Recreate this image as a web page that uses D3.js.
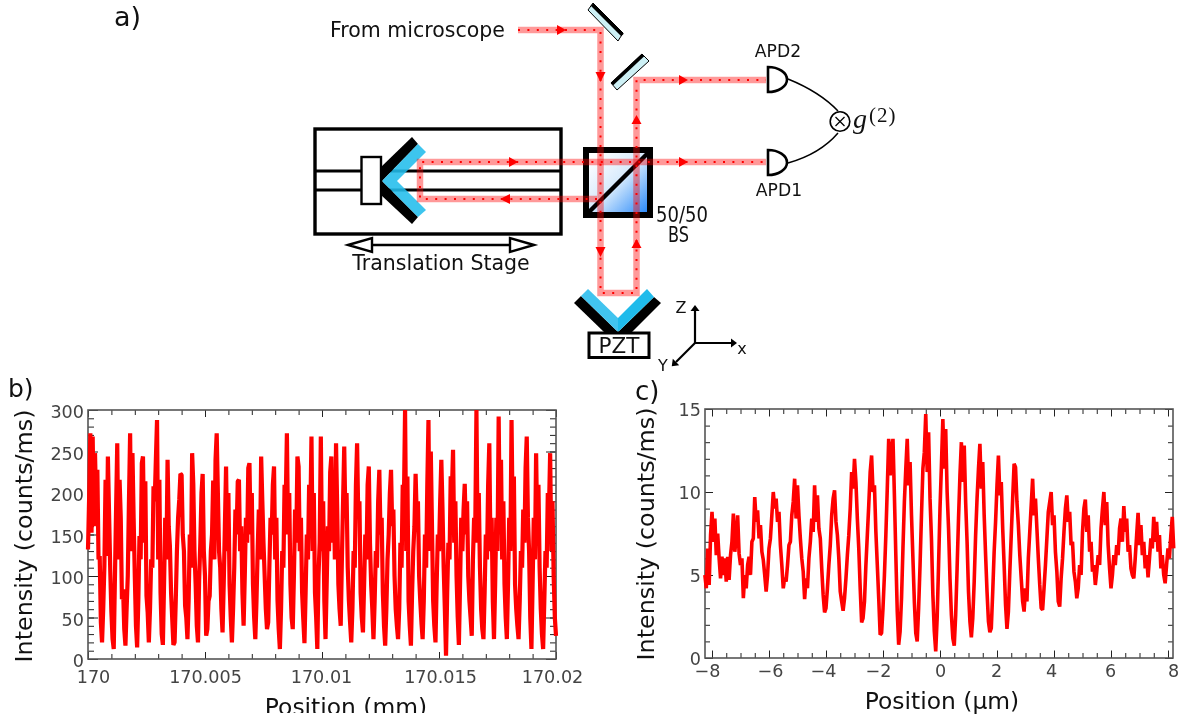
<!DOCTYPE html>
<html><head><meta charset="utf-8">
<script src="https://cdn.jsdelivr.net/npm/d3@7/dist/d3.min.js"></script>
<style>html,body{margin:0;padding:0;background:#fff}svg{display:block;filter:blur(0.4px)}text{font-family:"DejaVu Sans",sans-serif}</style>
</head><body><div id="chart"></div>
<script>
// ---- panel b) ----
const bIntensity = [
132,196,272,152,268,160,248,180,228,120,
124,44,20,60,112,216,124,244,176,108,
56,24,12,96,180,260,120,216,170,72,
84,36,16,60,100,190,272,130,248,170,
100,40,14,70,148,120,236,244,140,214,
76,56,20,60,120,110,208,190,240,288,
120,216,80,30,17,90,170,120,240,160,
136,80,48,17,20,70,130,170,192,223,
222,150,130,64,50,24,70,150,110,248,
210,130,90,40,20,96,140,200,223,130,
100,28,36,70,76,130,150,215,120,240,
272,200,130,110,60,32,90,160,232,130,
200,90,50,20,60,110,180,150,214,216,
130,160,80,40,100,170,140,230,236,150,
200,90,50,24,70,130,180,120,244,190,
140,100,60,36,44,110,170,150,210,232,
120,170,70,36,12,60,130,110,210,190,
272,150,200,90,50,36,100,180,140,244,
232,130,170,80,48,19,80,150,120,210,
170,268,130,200,80,50,12,100,140,268,
130,190,70,24,90,160,130,225,244,140,
200,120,260,180,90,60,40,120,190,256,
170,200,110,70,44,20,60,130,110,210,
260,170,190,80,50,32,90,150,120,210,
232,140,90,60,24,70,130,110,190,228,
150,170,80,40,16,60,120,150,200,228,
160,180,100,60,40,24,60,140,110,210,
190,300,130,220,70,40,16,80,130,160,
223,170,190,100,70,44,24,70,150,110,
210,288,130,250,160,70,40,20,90,150,
130,190,240,180,110,60,4,80,140,120,
220,200,252,140,190,100,50,17,90,170,
130,180,211,150,190,100,70,50,28,120,
170,160,300,140,200,110,60,36,24,80,
150,120,210,260,130,170,70,24,90,170,
130,292,150,240,120,190,90,50,24,90,
170,130,288,160,220,90,60,40,24,70,
130,110,180,140,230,268,170,130,50,12,
90,170,120,248,150,210,110,60,30,12,
70,130,110,200,180,248,130,190,100,50,
28];
const bDomainX = [170, 170.02];
const bDomainY = [0, 300];
const bMajorX = [170, 170.005, 170.01, 170.015, 170.02];
const bMajorXLabels = ["170", "170.005", "170.01", "170.015", "170.02"];
const bMinorX = d3.range(0, 21).map(i => 170 + i * 0.001);
const bMajorY = [0, 50, 100, 150, 200, 250, 300];
const bMinorY = d3.range(0, 301, 10);
const bStepMm = 0.00005;

// ---- panel c) ----
const cIntensity = [
5.0,4.2,6.6,4.4,7.4,8.8,7.0,8.4,6.2,7.5,
6.0,4.8,6.1,5.0,6.0,4.6,6.1,4.7,6.2,7.0,
8.7,6.4,7.2,8.6,6.3,5.6,6.0,3.6,5.0,4.2,
5.6,6.1,5.0,7.0,7.2,9.7,8.2,8.9,7.2,8.0,
6.4,5.9,5.0,4.0,5.0,6.6,7.2,8.6,10.0,9.0,
9.6,8.2,8.8,6.8,5.6,4.2,4.8,4.6,5.6,6.8,
7.0,8.6,9.4,10.8,8.4,10.4,8.6,7.2,6.0,5.2,
3.55,4.8,4.2,6.0,7.0,8.4,7.6,10.4,8.2,9.8,
7.8,7.2,5.4,3.8,2.75,3.0,4.2,5.6,6.8,8.6,
9.6,10.1,8.2,7.4,6.0,4.0,3.4,2.85,3.6,4.8,
6.2,7.4,9.0,11.2,10.2,12.0,10.6,8.4,6.6,4.2,
2.15,2.4,3.4,5.6,7.4,9.2,11.2,12.2,10.0,10.4,
7.6,5.6,3.6,1.4,1.5,3.0,5.0,7.4,10.2,13.2,
11.0,12.6,13.2,9.8,6.2,2.8,0.8,1.6,3.6,6.6,
9.4,11.4,13.2,10.4,11.8,8.6,6.0,3.4,1.5,1.0,
3.0,5.6,8.6,11.4,12.4,14.7,11.2,13.6,9.6,7.2,
3.8,1.6,0.4,2.4,5.6,9.0,11.6,14.4,11.4,13.8,
10.0,7.8,4.8,2.6,1.2,0.75,2.6,5.4,8.4,11.0,
13.0,10.6,12.8,9.4,7.0,4.0,2.2,1.25,2.4,4.6,
7.4,9.6,11.4,12.9,10.2,11.8,8.6,6.2,4.0,2.2,
1.55,1.8,4.0,6.4,8.2,10.4,12.2,9.8,10.6,7.8,
5.6,3.2,1.75,2.8,5.2,7.4,9.6,11.7,11.5,9.4,
8.0,6.2,4.8,3.4,2.8,4.2,3.4,6.0,7.6,9.2,
10.8,8.6,9.6,7.8,6.0,4.4,3.0,2.9,4.2,5.6,
7.2,8.8,9.4,10.0,8.0,8.6,6.4,5.2,3.4,3.1,
4.8,6.0,7.6,9.0,9.8,8.2,8.8,6.8,7.0,5.2,
4.6,3.6,4.2,5.6,5.0,7.6,9.0,9.55,7.6,8.6,
6.4,7.0,5.2,5.6,4.4,5.2,6.2,5.6,7.8,9.0,
10.0,8.0,9.4,6.8,5.4,4.2,5.0,6.2,5.6,6.8,
6.2,7.8,8.4,7.0,9.15,7.6,8.4,6.4,6.8,5.4,
5.0,4.8,6.0,7.4,8.75,6.8,8.0,6.2,7.0,5.4,
6.2,4.85,6.0,7.2,6.6,8.5,7.0,8.2,6.4,7.4,
5.4,6.2,5.0,4.5,5.6,6.6,6.0,7.4,8.5,6.6];
const cDomainX = [-8, 8];
const cDomainY = [0, 15];
const cStartUm = -8.25;
const cStepUm = 0.05;
const cMajorX = [-8, -6, -4, -2, 0, 2, 4, 6, 8];
const cMajorXLabels = ["\u22128", "\u22126", "\u22124", "\u22122", "0", "2", "4", "6", "8"];
const cMinorX = d3.range(-8, 8.01, 0.5);
const cMajorY = [0, 5, 10, 15];
const cMinorY = d3.range(0, 16, 1);

const svg = d3.select("#chart").append("svg").attr("width", 1185).attr("height", 722);
svg.append("rect").attr("width", 1185).attr("height", 722).attr("fill", "#fff");

function plot(o) {
  const x = d3.scaleLinear().domain(o.domX).range(o.rangeX);
  const y = d3.scaleLinear().domain(o.domY).range(o.rangeY);
  const [L, R] = o.frameX, [T, B] = o.frameY;
  const g = svg.append("g");
  const axes = [
    [d3.axisBottom, B, "x"], [d3.axisTop, T, "x"], [d3.axisLeft, L, "y"], [d3.axisRight, R, "y"]
  ];
  for (const [mk, pos, kind] of axes) {
    const horizontal = kind === "x";
    const scale = horizontal ? x : y;
    const tr = horizontal ? `translate(0,${pos})` : `translate(${pos},0)`;
    const minorLen = horizontal ? o.minorLenX : o.minorLenY;
    const majorLen = horizontal ? o.majorLenX : o.majorLenY;
    const a1 = g.append("g").attr("transform", tr)
      .call(mk(scale).tickValues(horizontal ? o.minorX : o.minorY).tickSize(-minorLen).tickFormat(""));
    const a2 = g.append("g").attr("transform", tr)
      .call(mk(scale).tickValues(horizontal ? o.majorX : o.majorY).tickSize(-majorLen).tickFormat(""));
    for (const a of [a1, a2]) {
      a.select(".domain").remove();
      a.selectAll("line").attr("stroke", "#222").attr("stroke-width", 1);
      a.selectAll("text").remove();
    }
  }
  g.append("rect").attr("x", L).attr("y", T).attr("width", R - L).attr("height", B - T)
    .attr("fill", "none").attr("stroke", "#555").attr("stroke-width", 1.6);
  const lbls = g.append("g").attr("transform", `translate(0,${B})`)
    .call(d3.axisBottom(x).tickValues(o.majorX).tickSize(0).tickFormat((d, i) => o.majorXLabels[i]));
  lbls.select(".domain").remove();
  lbls.selectAll("text").attr("y", 0).attr("dy", 0)
    .attr("transform", (d, i) => `translate(${o.xLabelShift[i]},${o.xLabelBase - B})`)
    .style("font-family", '"DejaVu Sans",sans-serif').style("font-size", "17.6px").attr("fill", "#444").attr("text-anchor", "middle");
  const yl = g.append("g").attr("transform", `translate(${o.yLabelRight},0)`)
    .call(d3.axisLeft(y).tickValues(o.majorY).tickSize(0).tickPadding(0));
  yl.select(".domain").remove();
  yl.selectAll("text").attr("x", 0).attr("dy", 0).attr("y", d => o.yLabelDy(d))
    .style("font-family", '"DejaVu Sans",sans-serif').style("font-size", "17.6px").attr("fill", "#444");
  const line = d3.line().x(d => x(d.p)).y(d => y(d.v));
  g.append("path").datum(o.points).attr("d", line).attr("fill", "none")
    .attr("stroke", "#ff0000").attr("stroke-width", o.lineWidth).attr("stroke-linejoin", "bevel");
}

plot({
  domX: bDomainX, domY: bDomainY, rangeX: [88, 556], rangeY: [659, 410],
  frameX: [88, 556], frameY: [410, 659],
  majorX: bMajorX, majorXLabels: bMajorXLabels, minorX: bMinorX, majorY: bMajorY, minorY: bMinorY,
  minorLenX: 5, majorLenX: 7, minorLenY: 6, majorLenY: 10,
  xLabelBase: 683, xLabelShift: [5, 0, -1, 1, -4], yLabelRight: 84, yLabelDy: d => 7.5, lineWidth: 4.2,
  points: bIntensity.map((v, i) => ({ p: 170 + i * bStepMm, v }))
});
plot({
  domX: cDomainX, domY: cDomainY, rangeX: [712, 1168], rangeY: [658, 409],
  frameX: [705, 1173], frameY: [409, 658],
  majorX: cMajorX, majorXLabels: cMajorXLabels, minorX: cMinorX, majorY: cMajorY, minorY: cMinorY,
  minorLenX: 5, majorLenX: 7.5, minorLenY: 5, majorLenY: 8,
  xLabelBase: 677, xLabelShift: [-5, 1, -3, -5, 0, -1, -3, -1, 5], yLabelRight: 701, yLabelDy: d => 6.5, lineWidth: 3.6,
  points: cIntensity.map((v, i) => ({ p: cStartUm + i * cStepUm, v }))
});

// titles
const defs = svg.append("defs");
defs.append("clipPath").attr("id", "bottomCut").append("rect").attr("x", 0).attr("y", 0).attr("width", 1185).attr("height", 713);
function txt(s, x, y, size, opt = {}) {
  return svg.append("text").attr("x", x).attr("y", y).text(s)
    .attr("font-size", size).attr("fill", opt.fill || "#111")
    .attr("text-anchor", opt.anchor || "middle");
}
svg.append("g").attr("clip-path", "url(#bottomCut)").append("text").attr("x", 346).attr("y", 715)
  .text("Position (mm)").attr("font-size", 23.4).attr("fill", "#111").attr("text-anchor", "middle");
txt("Position (\u00b5m)", 942, 709, 23.4);
txt("Intensity (counts/ms)", 0, 0, 23.8).attr("transform", "translate(32,536) rotate(-90)");
txt("Intensity (counts/ms)", 0, 0, 23.8).attr("transform", "translate(654,534) rotate(-90)");
txt("a)", 114, 26, 27, { anchor: "start" });
txt("b)", 8, 397, 25, { anchor: "start" });
txt("c)", 635, 400, 26, { anchor: "start" });

// ---- panel a) schematic ----
const poly = (pts, fill, stroke, sw, op) => svg.append("path")
  .attr("d", d3.line()(pts) + "Z").attr("fill", fill).attr("stroke", stroke || "none")
  .attr("stroke-width", sw || 0).attr("fill-opacity", op === undefined ? 1 : op).attr("stroke-linejoin", "miter");
const seg = (pts, stroke, sw) => svg.append("path").attr("d", d3.line()(pts)).attr("fill", "none")
  .attr("stroke", stroke).attr("stroke-width", sw).attr("stroke-linejoin", "miter");

// gradient cube
const grad = defs.append("linearGradient").attr("id", "bsGrad").attr("x1", 0).attr("y1", 0).attr("x2", 1).attr("y2", 1);
grad.append("stop").attr("offset", "0.1").attr("stop-color", "#ffffff");
grad.append("stop").attr("offset", "0.5").attr("stop-color", "#d6eafc");
grad.append("stop").attr("offset", "0.95").attr("stop-color", "#2e8cfa");

// stage
svg.append("rect").attr("x", 315).attr("y", 129).attr("width", 246).attr("height", 105)
  .attr("fill", "#fff").attr("stroke", "#000").attr("stroke-width", 3.4);
seg([[315, 171], [561, 171]], "#000", 3);
seg([[315, 190], [561, 190]], "#000", 3);

// beam-splitter cube
svg.append("rect").attr("x", 586).attr("y", 150).attr("width", 64).attr("height", 65)
  .attr("fill", "url(#bsGrad)").attr("stroke", "#000").attr("stroke-width", 6);
seg([[586, 215], [651, 150]], "#000", 4.5);

// retroreflector on stage
poly([[381, 167], [412, 137], [418, 144], [382, 181]], "#000");
poly([[381, 195], [412, 224], [418, 217], [382, 181]], "#000");
poly([[382, 181], [418, 144], [426, 152], [397, 181]], "#22bdec", null, 0, 0.88);
poly([[382, 181], [418, 217], [426, 210], [397, 181]], "#22bdec", null, 0, 0.88);
svg.append("rect").attr("x", 361.5).attr("y", 157).attr("width", 19.5).attr("height", 47)
  .attr("fill", "#fff").attr("stroke", "#000").attr("stroke-width", 2.4);

// PZT retroreflector
poly([[581, 296], [574, 303], [604, 332], [618, 332]], "#000");
poly([[654, 297], [661, 303], [632, 332], [618, 332]], "#000");
poly([[588, 289], [618, 318], [618, 332], [581, 296]], "#41c4ef");
poly([[647, 289], [618, 318], [618, 332], [654, 297]], "#1fbbeb");
svg.append("rect").attr("x", 589).attr("y", 333).attr("width", 60).attr("height", 24.5)
  .attr("fill", "#fff").attr("stroke", "#000").attr("stroke-width", 3);
txt("PZT", 619, 353, 21.5);

// flat mirrors
poly([[593, 3], [623, 33], [618, 41], [588, 10]], "#cdf0f5", "#000", 1);
seg([[592, 4.5], [622.5, 35]], "#000", 3.6);
poly([[642, 54], [649, 61], [617, 90], [611, 83]], "#cdf0f5", "#000", 1);
seg([[612, 84], [643, 55]], "#000", 3.6);

// beams
const beamPaths = [
  [[518, 30], [600.5, 30], [600.5, 293], [636.5, 293], [636.5, 80], [766, 80]],
  [[597, 199], [420, 199], [420, 162], [766, 162]]
];
for (const b of beamPaths) {
  svg.append("path").attr("d", d3.line()(b)).attr("fill", "none").attr("stroke", "#ff0000")
    .attr("stroke-opacity", 0.4).attr("stroke-width", 6.5).attr("stroke-linejoin", "miter");
  svg.append("path").attr("d", d3.line()(b)).attr("fill", "none").attr("stroke", "#ff0000")
    .attr("stroke-width", 2).attr("stroke-dasharray", "2 7.4");
}
const arrows = [
  [557, 30, "r"], [679, 80, "r"], [509, 162, "r"], [679, 162, "r"], [510, 199, "l"],
  [600.5, 72, "d"], [600.5, 247, "d"], [636.5, 124, "u"], [636.5, 248, "u"]
];
for (const [x, y, dir] of arrows) {
  const pts = dir === "r" ? [[x, y - 5], [x + 9, y], [x, y + 5]]
    : dir === "l" ? [[x, y - 5], [x - 10, y], [x, y + 5]]
    : dir === "d" ? [[x - 5, y], [x, y + 10], [x + 5, y]]
    : [[x - 5, y], [x, y - 9], [x + 5, y]];
  poly(pts, "#ff0000");
}

// translation-stage arrow
seg([[372, 245], [510, 245]], "#000", 2.4);
poly([[348, 245], [372, 238], [372, 252]], "#fff", "#000", 2.4);
poly([[534, 245], [510, 238], [510, 252]], "#fff", "#000", 2.4);

// detectors
for (const cy of [79.5, 162.5]) {
  svg.append("path").attr("d", `M768,${cy - 12.5} A19,12.5 0 0 1 768,${cy + 12.5} Z`)
    .attr("fill", "#fff").attr("stroke", "#000").attr("stroke-width", 2.6);
}
svg.append("path").attr("d", "M788,79 Q820,92 838,111").attr("fill", "none").attr("stroke", "#000").attr("stroke-width", 1.5);
svg.append("path").attr("d", "M788,163 Q820,154 838,133").attr("fill", "none").attr("stroke", "#000").attr("stroke-width", 1.5);
svg.append("circle").attr("cx", 840).attr("cy", 121.5).attr("r", 9.8).attr("fill", "#fff").attr("stroke", "#000").attr("stroke-width", 1.6);
seg([[835.5, 117], [844.5, 126]], "#000", 1.2);
seg([[844.5, 117], [835.5, 126]], "#000", 1.2);

// coordinate triad
function arrowLine(a, b) {
  seg([a, b], "#000", 2.2);
  const ang = Math.atan2(b[1] - a[1], b[0] - a[0]);
  const tip = [b[0] + 6 * Math.cos(ang), b[1] + 6 * Math.sin(ang)];
  const w = [-Math.sin(ang) * 4.5, Math.cos(ang) * 4.5];
  poly([tip, [b[0] + w[0], b[1] + w[1]], [b[0] - w[0], b[1] - w[1]]], "#000");
}
arrowLine([695, 343], [695, 311]);
arrowLine([694, 343], [731, 343]);
arrowLine([695, 343], [676, 362]);
txt("Z", 681, 313, 16);
txt("x", 742, 354, 16);
txt("Y", 663, 371, 16);

// schematic labels
txt("From microscope", 330, 37, 20.5, { anchor: "start" });
txt("Translation Stage", 441, 270, 20.5);
txt("50/50", 656, 221.5, 21, { anchor: "start" }).attr("textLength", 52).attr("lengthAdjust", "spacingAndGlyphs");
txt("BS", 678.5, 241.7, 21).attr("textLength", 21).attr("lengthAdjust", "spacingAndGlyphs");
txt("APD2", 778, 56.5, 17.2);
txt("APD1", 779, 195.5, 17.2);
svg.append("text").attr("x", 853).attr("y", 128).text("g").attr("font-size", 28).attr("font-style", "italic")
  .style("font-family", '"Liberation Serif",serif').attr("fill", "#111");
svg.append("text").attr("x", 869).attr("y", 122).text("(2)").attr("font-size", 21).attr("letter-spacing", 1)
  .style("font-family", '"Liberation Serif",serif').attr("fill", "#111");
</script></body></html>
